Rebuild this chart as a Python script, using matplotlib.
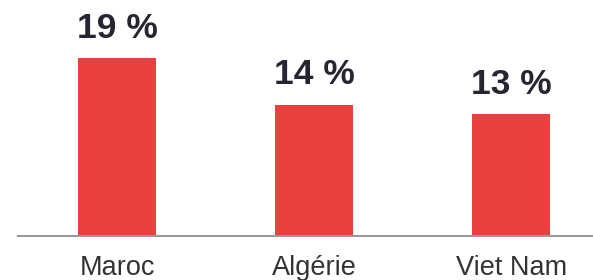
import matplotlib
matplotlib.use('Agg')
import matplotlib.pyplot as plt

countries = ['Maroc', 'Algérie', 'Viet Nam']
shares = [19, 14, 13]
value_labels = ['19 %', '14 %', '13 %']

plt.rcParams['font.family'] = ['Liberation Sans', 'DejaVu Sans']

fig = plt.figure(figsize=(5.93, 2.8), dpi=100)
ax = fig.add_axes([18 / 593, 44.5 / 280, 574 / 593, 235.5 / 280])

x = range(len(countries))
bars = ax.bar(x, shares, width=0.396, color='#e94040')

for bar, lab in zip(bars, value_labels):
    ax.annotate(lab, (bar.get_x() + bar.get_width() / 2, bar.get_height()),
                xytext=(0, 14.8), textcoords='offset points',
                ha='center', va='baseline', fontsize=25.5, fontweight='bold',
                color='#262633')

ax.set_xlim(-0.503, 2.41)
ax.set_ylim(0, 235.5 / 9.32)
ax.set_xticks(list(x))
ax.set_xticklabels(countries, fontsize=19.5, color='#333333')
ax.tick_params(axis='x', length=0, pad=14)
ax.set_yticks([])
for side in ['top', 'left', 'right']:
    ax.spines[side].set_visible(False)
ax.spines['bottom'].set_color('#999999')
ax.spines['bottom'].set_linewidth(1.5)

fig.savefig('out.png', dpi=100)
